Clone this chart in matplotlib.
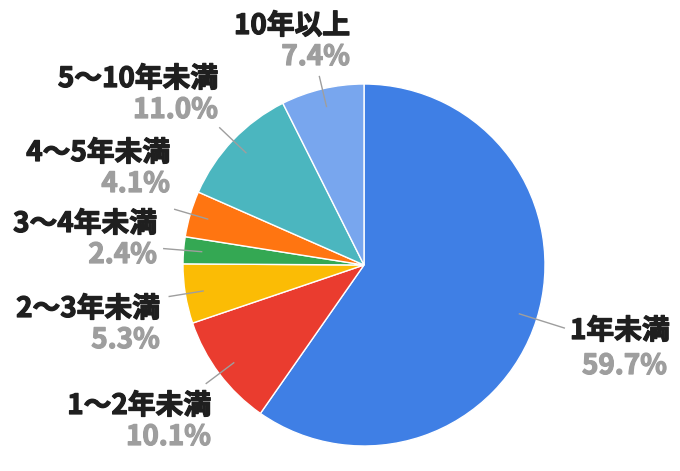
import numpy as np
import matplotlib
matplotlib.use("Agg")
import matplotlib.pyplot as plt
import matplotlib.patheffects as pe

plt.rcParams['font.family'] = ['Noto Sans CJK JP', 'DejaVu Sans']

labels = ["1年未満", "1〜2年未満", "2〜3年未満", "3〜4年未満", "4〜5年未満", "5〜10年未満", "10年以上"]
shares = [59.7, 10.1, 5.3, 2.4, 4.1, 11.0, 7.4]
colors = ["#3f7fe5", "#ea3c2f", "#fbbc05", "#34a853", "#ff7511", "#4bb6bf", "#78a6ee"]

# layout (pixels): pie centre, radius, label anchor per slice (x edge, name y)
W, H = 680, 471
cx, cy, R = 364, 265, 181
label_pos = [(570, 331, "left"), (211, 406, "right"), (160, 309, "right"),
             (157, 224, "right"), (170, 153, "right"), (218, 79, "right"),
             (350, 26, "right")]
line_out = [1.16, 1.09, 1.09, 1.11, 1.09, 1.1, 1.07]

fig = plt.figure(figsize=(W / 100, H / 100), dpi=100)
ax = fig.add_axes([0, 0, 1, 1])

wedges, _ = ax.pie(shares, colors=colors, startangle=90, counterclock=False,
                   center=(cx, H - cy), radius=R,
                   wedgeprops=dict(edgecolor="white", linewidth=1))
ax.set_xlim(0, W)
ax.set_ylim(0, H)
ax.set_aspect("equal")
ax.axis("off")

fs = 20


def heavy(c):
    # thicken the bold glyphs a little
    return [pe.withStroke(linewidth=0.9, foreground=c)]


total = sum(shares)
start = 0.0
for i, (name, v) in enumerate(zip(labels, shares)):
    mid = np.deg2rad((start + v / 2) / total * 360)
    start += v
    dx, dy = np.sin(mid), np.cos(mid)
    r0, r1 = 0.9 * R, line_out[i] * R
    ax.plot([cx + r0 * dx, cx + r1 * dx], [H - cy + r0 * dy, H - cy + r1 * dy],
            color="#9e9e9e", lw=1)
    x, y, side = label_pos[i]
    if side == "left":
        ax.text(x, H - y, name, ha="left", va="center", fontsize=fs,
                fontweight="bold", color="#1f1f1f", path_effects=heavy("#1f1f1f"))
        ax.text(667, H - y - 35, f"{v:.1f}%", ha="right", va="center", fontsize=fs,
                fontweight="bold", color="#9e9e9e", path_effects=heavy("#9e9e9e"))
    else:
        ax.text(x, H - y, name, ha="right", va="center", fontsize=fs,
                fontweight="bold", color="#1f1f1f", path_effects=heavy("#1f1f1f"))
        ax.text(x, H - y - 31, f"{v:.1f}%", ha="right", va="center", fontsize=fs,
                fontweight="bold", color="#9e9e9e", path_effects=heavy("#9e9e9e"))

fig.savefig("out.png", dpi=100)
